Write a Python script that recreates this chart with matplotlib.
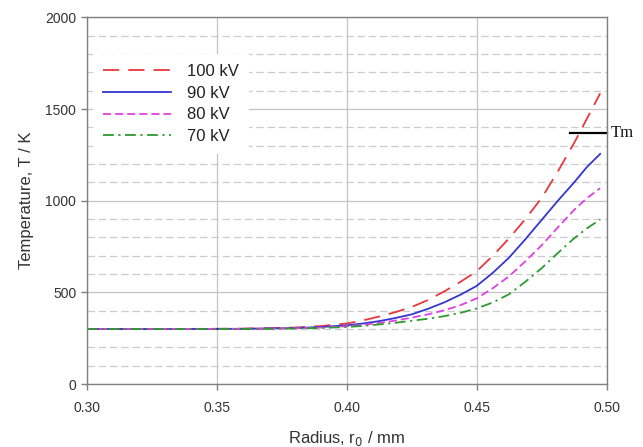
import matplotlib
matplotlib.use("Agg")
import matplotlib.pyplot as plt
from matplotlib.ticker import MultipleLocator, FormatStrFormatter

# ---- data ----
radius = [0.30, 0.33, 0.36, 0.38, 0.39, 0.40, 0.40625, 0.4125, 0.41875, 0.425,
          0.43125, 0.4375, 0.44375, 0.45, 0.45625, 0.4625, 0.46875, 0.475,
          0.48125, 0.4875, 0.4925, 0.4975]
t_100kv = [300, 300, 302, 308, 316, 330, 347, 368, 392, 420, 458, 505, 557, 615,
           700, 795, 900, 1015, 1160, 1315, 1450, 1585]
t_90kv = [300, 300, 301, 305, 311, 320, 330, 343, 360, 380, 410, 445, 487, 535,
          607, 690, 790, 895, 1000, 1100, 1185, 1255]
t_80kv = [300, 300, 301, 304, 308, 315, 323, 333, 346, 362, 380, 402, 430, 467,
          523, 588, 670, 757, 855, 950, 1015, 1068]
t_70kv = [300, 300, 300, 303, 306, 311, 317, 325, 334, 345, 356, 370, 388, 412,
          445, 490, 558, 632, 715, 795, 850, 897]
labels = ["100 kV", "90 kV", "80 kV", "70 kV"]
tm_value = 1367
tm_x = [0.486, 0.50]
tm_label = "Tm"
x_ticks = [0.30, 0.35, 0.40, 0.45, 0.50]
y_ticks = [0, 500, 1000, 1500, 2000]

plt.rcParams['font.family'] = ['Liberation Sans', 'DejaVu Sans']

fig = plt.figure(figsize=(6.43, 4.47), dpi=100)
ax = fig.add_axes([0.1348, 0.1409, 0.8087, 0.8203])

# grid
ax.set_axisbelow(True)
ax.yaxis.set_minor_locator(MultipleLocator(100))
ax.grid(which='major', axis='both', color='#c4c4c4', lw=0.9, ls='-')
ax.grid(which='minor', axis='y', color='#cccccc', lw=0.9, ls=(0, (6, 3)))

ax.plot(radius, t_100kv, color='#e8383d', lw=1.3, ls=(0, (9, 5)), label=labels[0])
ax.plot(radius, t_90kv, color='#3535d0', lw=1.3, ls='-', label=labels[1])
ax.plot(radius, t_80kv, color='#e040e0', lw=1.3, ls=(0, (4.5, 2.2)), label=labels[2])
ax.plot(radius, t_70kv, color='#2e9a2e', lw=1.3, ls=(0, (6, 2.5, 1.2, 2.5)), label=labels[3])

ax.plot(tm_x, [tm_value, tm_value], color='black', lw=1.6, clip_on=False)
ax.text(0.5015, tm_value, tm_label, family='Liberation Serif', fontsize=12,
        va='center', ha='left', color='#111111', clip_on=False)

ax.set_xlim(0.30, 0.50)
ax.set_ylim(0, 2000)
ax.set_xticks(x_ticks)
ax.set_yticks(y_ticks)
ax.xaxis.set_major_formatter(FormatStrFormatter('%.2f'))

for s in ax.spines.values():
    s.set_color('#808080')
    s.set_linewidth(1.0)
ax.tick_params(which='major', direction='out', length=4, color='#808080',
               labelsize=10, labelcolor='#333333', width=1.0)
ax.tick_params(which='minor', length=0)
ax.tick_params(axis='x', pad=8)

ax.set_xlabel(r"Radius, r$_0$ / mm", fontsize=12, color='#333333', labelpad=10)
ax.set_ylabel("Temperature, T / K", fontsize=12, color='#333333', labelpad=8)

leg = ax.legend(loc='upper left', bbox_to_anchor=(0.012, 0.9), borderaxespad=0,
                fontsize=12, handlelength=4.1, handletextpad=0.95, labelspacing=0.4,
                borderpad=0.6, frameon=True, fancybox=False)
leg.get_frame().set_edgecolor('none')
leg.get_frame().set_facecolor('white')
leg.get_frame().set_alpha(1.0)
for t in leg.get_texts():
    t.set_color('#222222')

fig.savefig("out.png", dpi=100)
